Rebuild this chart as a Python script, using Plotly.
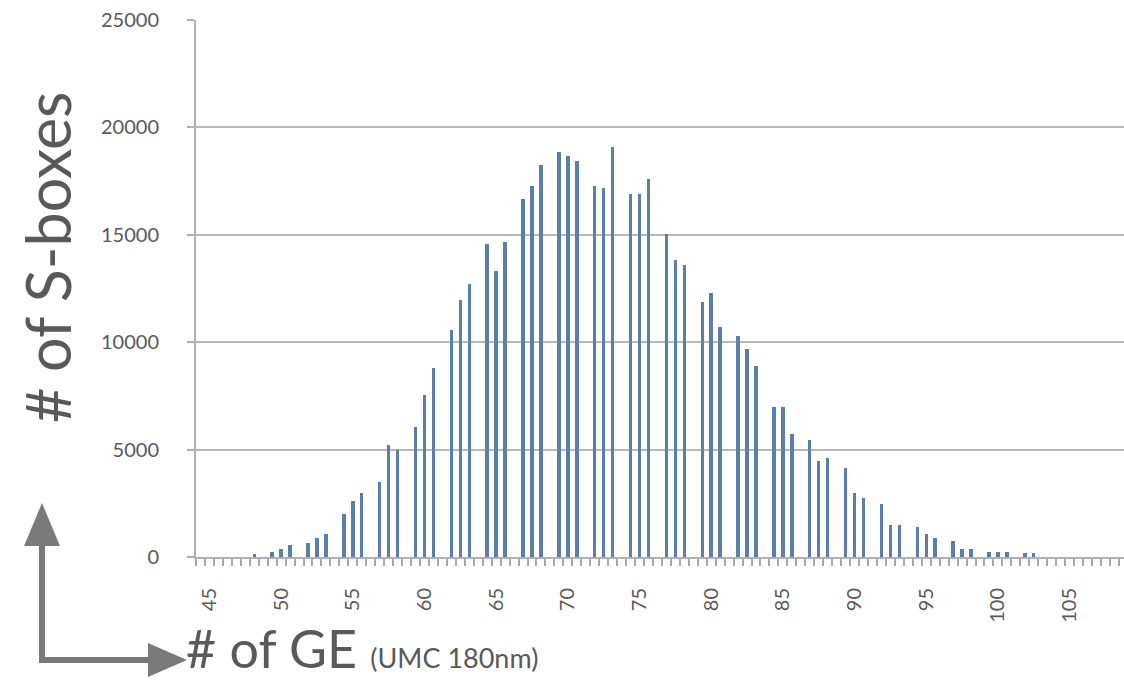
import plotly.graph_objects as go

# ---- data ----
ge_values = [48.125,
             49.375, 50.0, 50.625, 51.875, 52.5, 53.125, 54.375, 55.0, 55.625,
             56.875, 57.5, 58.125, 59.375, 60.0, 60.625, 61.875, 62.5, 63.125,
             64.375, 65.0, 65.625, 66.875, 67.5, 68.125, 69.375, 70.0, 70.625,
             71.875, 72.5, 73.125, 74.375, 75.0, 75.625, 76.875, 77.5, 78.125,
             79.375, 80.0, 80.625, 81.875, 82.5, 83.125, 84.375, 85.0, 85.625,
             86.875, 87.5, 88.125, 89.375, 90.0, 90.625, 91.875, 92.5, 93.125,
             94.375, 95.0, 95.625, 96.875, 97.5, 98.125, 99.375, 100.0, 100.625,
             101.875, 102.5]
sbox_counts = [140,
               230, 370, 540, 630, 870, 1080, 2000, 2590, 2975,
               3500, 5220, 4960, 6070, 7550, 8820, 10570, 11960, 12690,
               14555, 13330, 14650, 16650, 17280, 18240, 18860, 18660, 18440,
               17280, 17160, 19090, 16890, 16890, 17620, 15030, 13810, 13590,
               11890, 12300, 10700, 10300, 9690, 8900, 7000, 7000, 5730,
               5450, 4490, 4600, 4140, 3000, 2770, 2480, 1500, 1500,
               1390, 1080, 880, 760, 370, 370, 230, 230, 230,
               185, 185]
x_tick_values = [45, 50, 55, 60, 65, 70, 75, 80, 85, 90, 95, 100, 105]
x_tick_labels = [str(v) for v in x_tick_values]
y_tick_values = [0, 5000, 10000, 15000, 20000, 25000]
y_tick_labels = [str(v) for v in y_tick_values]

W, H = 1124, 693
ML, MR, MT, MB = 196, 0, 20, 136
PW, PH = W - ML - MR, H - MT - MB

def px(x):
    return (x - ML) / PW

def py(y):
    return (H - MB - y) / PH

FONT = "Lato"
GREY = "#595959"
ARROW = "#7a7a7a"

fig = go.Figure()
fig.add_trace(go.Bar(
    x=ge_values, y=sbox_counts, width=0.24,
    marker=dict(color="#5b7fa8", line=dict(width=0)),
    hoverinfo="x+y", showlegend=False,
))

shapes = [
    dict(type="line", xref="paper", yref="paper",
         x0=px(42), x1=px(42), y0=py(663), y1=py(540),
         line=dict(color=ARROW, width=6)),
    dict(type="path", xref="paper", yref="paper",
         path=f"M {px(24)} {py(546)} L {px(42)} {py(503)} L {px(60)} {py(546)} Z",
         fillcolor=ARROW, line=dict(color=ARROW, width=0)),
    dict(type="line", xref="paper", yref="paper",
         x0=px(39), x1=px(155), y0=py(660), y1=py(660),
         line=dict(color=ARROW, width=6)),
    dict(type="path", xref="paper", yref="paper",
         path=f"M {px(148)} {py(643)} L {px(187)} {py(660)} L {px(148)} {py(677)} Z",
         fillcolor=ARROW, line=dict(color=ARROW, width=0)),
]

annotations = [
    dict(text="# of S-boxes", xref="paper", yref="paper",
         x=px(47), y=py(257), xanchor="center", yanchor="middle",
         textangle=-90, showarrow=False,
         font=dict(family=FONT, size=61, color=GREY)),
    dict(text="# of GE <span style='font-size:27px'>(UMC 180nm)</span>",
         xref="paper", yref="paper",
         x=px(184), y=py(681), xanchor="left", yanchor="bottom",
         showarrow=False,
         font=dict(family=FONT, size=52, color=GREY)),
]

fig.update_layout(
    width=W, height=H,
    margin=dict(l=ML, r=MR, t=MT, b=MB, pad=0),
    paper_bgcolor="white", plot_bgcolor="white",
    bargap=0,
    shapes=shapes, annotations=annotations,
    font=dict(family=FONT, color=GREY),
    xaxis=dict(
        range=[44.0625, 44.0625 + PW / 14.336],
        tickmode="array", tickvals=x_tick_values, ticktext=x_tick_labels,
        tickangle=-90, ticks="", ticklabelstandoff=21,
        tickfont=dict(family=FONT, size=20, color=GREY),
        showgrid=False, zeroline=False,
        showline=True, linecolor="#b0b0b0", linewidth=2,
        minor=dict(ticks="outside", ticklen=7, tickcolor="#a8a8a8", tickwidth=1.5,
                   tick0=44.0625, dtick=0.625, showgrid=False),
    ),
    yaxis=dict(
        range=[0, 25000],
        tickmode="array", tickvals=y_tick_values, ticktext=y_tick_labels,
        ticks="outside", ticklen=7, tickcolor="#b0b0b0", tickwidth=2,
        ticklabelstandoff=24,
        tickfont=dict(family=FONT, size=20, color=GREY),
        showgrid=True, gridcolor="#b8b8b8", gridwidth=2,
        zeroline=False,
        showline=True, linecolor="#b0b0b0", linewidth=2,
    ),
)

fig.write_html("out.html")
